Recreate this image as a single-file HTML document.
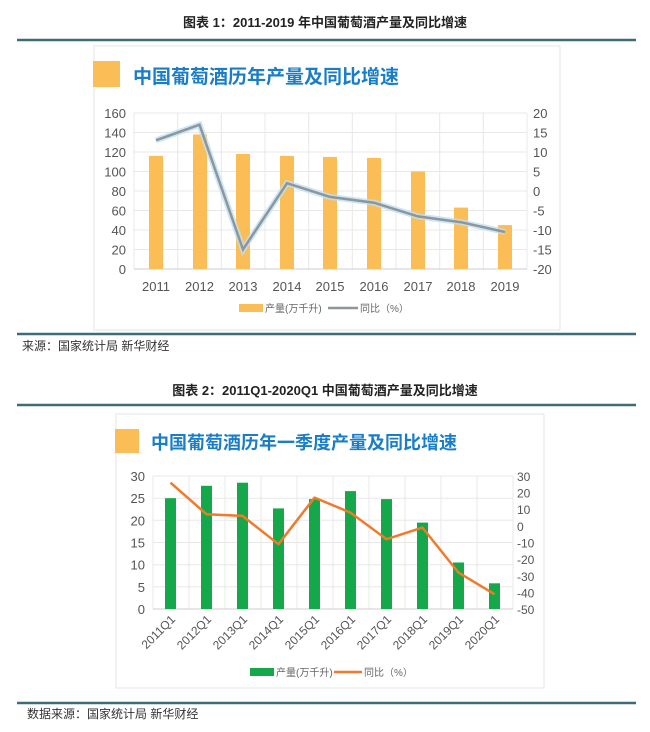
<!DOCTYPE html>
<html><head><meta charset="utf-8"><style>
body{margin:0;background:#fff;width:650px;height:732px;overflow:hidden}
svg{display:block}
text{font-family:"Liberation Sans","Noto Sans CJK SC",sans-serif}
</style></head><body>
<svg width="650" height="732" viewBox="0 0 650 732">
<!-- Chart 1 header -->
<text x="325" y="27" text-anchor="middle" font-size="13" font-weight="bold" fill="#222">图表 1：2011-2019 年中国葡萄酒产量及同比增速</text>
<line x1="17" y1="40" x2="636" y2="40" stroke="#3d6b76" stroke-width="2.5"/>
<rect x="94" y="46" width="466" height="284" fill="#fff" stroke="#e6e6e6"/>
<rect x="93" y="61" width="27" height="26" fill="#fbbd55"/>
<text x="133" y="83" font-size="19" font-weight="bold" fill="#1a7dc8">中国葡萄酒历年产量及同比增速</text>
<g stroke="#e8e8e8" stroke-width="1">
<line x1="134" y1="113" x2="527" y2="113"/><line x1="134" y1="132.5" x2="527" y2="132.5"/><line x1="134" y1="152" x2="527" y2="152"/><line x1="134" y1="171.5" x2="527" y2="171.5"/><line x1="134" y1="191" x2="527" y2="191"/><line x1="134" y1="210.5" x2="527" y2="210.5"/><line x1="134" y1="230" x2="527" y2="230"/><line x1="134" y1="249.5" x2="527" y2="249.5"/>
<line x1="134" y1="113" x2="134" y2="269"/><line x1="177.7" y1="113" x2="177.7" y2="269"/><line x1="221.3" y1="113" x2="221.3" y2="269"/><line x1="265" y1="113" x2="265" y2="269"/><line x1="308.7" y1="113" x2="308.7" y2="269"/><line x1="352.3" y1="113" x2="352.3" y2="269"/><line x1="396" y1="113" x2="396" y2="269"/><line x1="439.7" y1="113" x2="439.7" y2="269"/><line x1="483.3" y1="113" x2="483.3" y2="269"/><line x1="527" y1="113" x2="527" y2="269"/>
</g>
<line x1="134" y1="269" x2="527" y2="269" stroke="#ccc"/>
<g fill="#fbbd55">
<rect x="149" y="155.9" width="14" height="113.1"/>
<rect x="193" y="134.5" width="14" height="134.5"/>
<rect x="236" y="154" width="14" height="115"/>
<rect x="280" y="155.9" width="14" height="113.1"/>
<rect x="323" y="156.9" width="14" height="112.1"/>
<rect x="367" y="157.9" width="14" height="111.1"/>
<rect x="411" y="171.5" width="14" height="97.5"/>
<rect x="454" y="207.6" width="14" height="61.4"/>
<rect x="498" y="225.1" width="14" height="43.9"/>
</g>
<polyline points="156,140.3 199.5,124.7 243,249.5 287,183.2 330,196.9 374,202.7 418,216.4 461,222.2 505,232" fill="none" stroke="#bfe0f5" stroke-width="6" opacity="0.8"/>
<polyline points="156,140.3 199.5,124.7 243,249.5 287,183.2 330,196.9 374,202.7 418,216.4 461,222.2 505,232" fill="none" stroke="#8c969c" stroke-width="2.5"/>
<g font-size="13" fill="#555" text-anchor="end">
<text x="126" y="118">160</text><text x="126" y="137.5">140</text><text x="126" y="157">120</text><text x="126" y="176.5">100</text><text x="126" y="196">80</text><text x="126" y="215.5">60</text><text x="126" y="235">40</text><text x="126" y="254.5">20</text><text x="126" y="274">0</text>
</g>
<g font-size="13" fill="#555" text-anchor="start">
<text x="533" y="118">20</text><text x="533" y="137.5">15</text><text x="533" y="157">10</text><text x="533" y="176.5">5</text><text x="533" y="196">0</text><text x="533" y="215.5">-5</text><text x="533" y="235">-10</text><text x="533" y="254.5">-15</text><text x="533" y="274">-20</text>
</g>
<g font-size="13" fill="#555" text-anchor="middle">
<text x="156" y="291">2011</text><text x="199.5" y="291">2012</text><text x="243" y="291">2013</text><text x="287" y="291">2014</text><text x="330" y="291">2015</text><text x="374" y="291">2016</text><text x="418" y="291">2017</text><text x="461" y="291">2018</text><text x="505" y="291">2019</text>
</g>
<rect x="239" y="304" width="24" height="8" fill="#fbbd55"/>
<text x="265" y="312" font-size="10" fill="#666">产量(万千升)</text>
<line x1="328" y1="308" x2="358" y2="308" stroke="#8c969c" stroke-width="2.5"/>
<text x="360" y="312" font-size="10" fill="#666">同比（%）</text>
<line x1="17" y1="334" x2="636" y2="334" stroke="#3d6b76" stroke-width="2.5"/>
<text x="22" y="350" font-size="12" fill="#333">来源：国家统计局 新华财经</text>

<!-- Chart 2 -->
<text x="325" y="395" text-anchor="middle" font-size="13" font-weight="bold" fill="#222">图表 2：2011Q1-2020Q1 中国葡萄酒产量及同比增速</text>
<line x1="17" y1="405" x2="636" y2="405" stroke="#3d6b76" stroke-width="2.5"/>
<rect x="116" y="414" width="428" height="274" fill="#fff" stroke="#e6e6e6"/>
<rect x="115" y="429" width="24" height="24" fill="#fbbd55"/>
<text x="151" y="449" font-size="18" font-weight="bold" fill="#1a7dc8">中国葡萄酒历年一季度产量及同比增速</text>
<g stroke="#e8e8e8">
<line x1="153" y1="476" x2="513" y2="476"/><line x1="153" y1="498.2" x2="513" y2="498.2"/><line x1="153" y1="520.3" x2="513" y2="520.3"/><line x1="153" y1="542.5" x2="513" y2="542.5"/><line x1="153" y1="564.7" x2="513" y2="564.7"/><line x1="153" y1="586.8" x2="513" y2="586.8"/>
<line x1="153" y1="476" x2="153" y2="609"/><line x1="189" y1="476" x2="189" y2="609"/><line x1="225" y1="476" x2="225" y2="609"/><line x1="261" y1="476" x2="261" y2="609"/><line x1="297" y1="476" x2="297" y2="609"/><line x1="333" y1="476" x2="333" y2="609"/><line x1="369" y1="476" x2="369" y2="609"/><line x1="405" y1="476" x2="405" y2="609"/><line x1="441" y1="476" x2="441" y2="609"/><line x1="477" y1="476" x2="477" y2="609"/><line x1="513" y1="476" x2="513" y2="609"/>
</g>
<line x1="153" y1="609" x2="513" y2="609" stroke="#ccc"/>
<g fill="#15a84a">
<rect x="165" y="498.2" width="11" height="110.8"/>
<rect x="201" y="485.8" width="11" height="123.2"/>
<rect x="237" y="482.7" width="11" height="126.3"/>
<rect x="273" y="508.4" width="11" height="100.6"/>
<rect x="309" y="499.1" width="11" height="109.9"/>
<rect x="345" y="491.1" width="11" height="117.9"/>
<rect x="381" y="499.1" width="11" height="109.9"/>
<rect x="417" y="522.6" width="11" height="86.4"/>
<rect x="453" y="562.5" width="11" height="46.5"/>
<rect x="489" y="583.3" width="11" height="25.7"/>
</g>
<polyline points="170.5,482.7 206.5,514.2 242.5,515.9 278.5,544.2 314.5,497.6 350.5,512.6 386.5,539.2 422.5,527.6 458.5,572.6 494.5,594.2" fill="none" stroke="#f07a2a" stroke-width="2.5" stroke-linejoin="round"/>
<g font-size="13" fill="#555" text-anchor="end">
<text x="145" y="481">30</text><text x="145" y="503.2">25</text><text x="145" y="525.3">20</text><text x="145" y="547.5">15</text><text x="145" y="569.7">10</text><text x="145" y="591.8">5</text><text x="145" y="614">0</text>
</g>
<g font-size="12" fill="#555" text-anchor="start">
<text x="517" y="481">30</text><text x="517" y="497.6">20</text><text x="517" y="514.2">10</text><text x="517" y="530.9">0</text><text x="517" y="547.5">-10</text><text x="517" y="564.1">-20</text><text x="517" y="580.8">-30</text><text x="517" y="597.4">-40</text><text x="517" y="614">-50</text>
</g>
<g font-size="12" fill="#555" text-anchor="end">
<text transform="translate(176,620) rotate(-45)">2011Q1</text>
<text transform="translate(212,620) rotate(-45)">2012Q1</text>
<text transform="translate(248,620) rotate(-45)">2013Q1</text>
<text transform="translate(284,620) rotate(-45)">2014Q1</text>
<text transform="translate(320,620) rotate(-45)">2015Q1</text>
<text transform="translate(356,620) rotate(-45)">2016Q1</text>
<text transform="translate(392,620) rotate(-45)">2017Q1</text>
<text transform="translate(428,620) rotate(-45)">2018Q1</text>
<text transform="translate(464,620) rotate(-45)">2019Q1</text>
<text transform="translate(500,620) rotate(-45)">2020Q1</text>
</g>
<rect x="250" y="668" width="24" height="8" fill="#15a84a"/>
<text x="276" y="676" font-size="10" fill="#666">产量(万千升)</text>
<line x1="334" y1="672" x2="362" y2="672" stroke="#f07a2a" stroke-width="2.5"/>
<text x="364" y="676" font-size="10" fill="#666">同比（%）</text>
<line x1="17" y1="703" x2="636" y2="703" stroke="#3d6b76" stroke-width="2.5"/>
<text x="27" y="718" font-size="12" fill="#333">数据来源：国家统计局 新华财经</text>
</svg>
</body></html>
